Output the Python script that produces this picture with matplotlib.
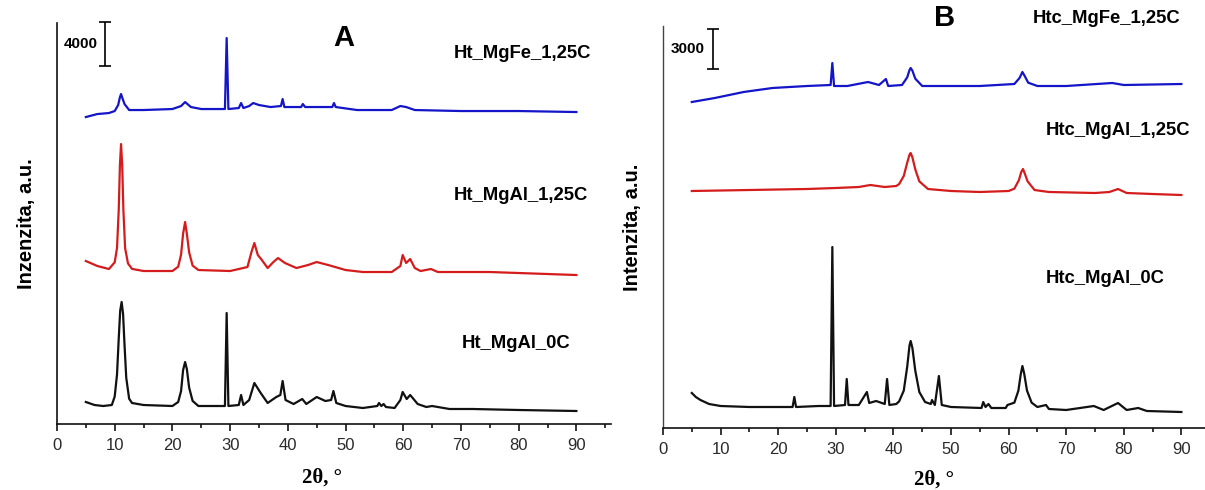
import matplotlib
matplotlib.use('Agg')
import matplotlib.pyplot as plt
from matplotlib.ticker import MultipleLocator

plt.rcParams['font.family'] = ['Liberation Sans', 'DejaVu Sans']

# ---- panel A: hydrotalcites (counts, stacked) ----
a_blue_x = [5, 7, 9, 10, 10.6, 10.9, 11.1, 11.35, 11.7, 12.5, 15, 20, 21.5, 22.2, 23.2, 25, 29.1, 29.4,
            29.7, 31.5, 31.9, 32.3, 33.3, 34, 35, 37, 38.8, 39.1, 39.4, 42.3, 42.6, 43, 47.7, 48, 48.3,
            52, 58, 59.5, 60.5, 62, 70, 80, 90]
a_blue_y = [27906, 28179, 28270, 28452, 28998, 29700, 29997, 29600, 29088, 28543, 28543, 28634, 28906,
            29270, 28816, 28634, 28634, 35087, 28634, 28724, 29179, 28724, 28906, 29179, 28998, 28816,
            28906, 29543, 28816, 28816, 29088, 28816, 28816, 29179, 28816, 28543, 28543, 28906, 28816,
            28543, 28452, 28452, 28361]

a_red_x = [5, 7, 9, 10.0, 10.4, 10.7, 10.9, 11.1, 11.3, 11.5, 11.8, 12.3, 13, 15, 20, 21.0, 21.5,
           21.85, 22.2, 22.5, 22.9, 23.5, 24.5, 30, 33, 33.7, 34.2, 34.8, 35.5, 36.5, 37.5, 38.3, 39.5,
           41.5, 43.5, 45, 47, 50, 53, 58, 59.5, 59.9, 60.5, 61.2, 62, 63, 64.8, 66, 70, 75, 80, 90]
a_red_y = [14817, 14362, 14090, 14700, 16000, 19500, 23500, 25452, 23500, 19500, 16000, 14600, 14100,
           13908, 13908, 14300, 15400, 17300, 18362, 17300, 15600, 14400, 13999, 13908, 14271, 15635,
           16453, 15362, 14908, 14180, 14726, 15089, 14635, 14180, 14453, 14726, 14453, 13999, 13817,
           13817, 14362, 15362, 14635, 14999, 14180, 13908, 14090, 13817, 13817, 13817, 13726, 13544]

a_black_x = [5, 6.5, 8, 9.5, 10.0, 10.4, 10.7, 10.95, 11.2, 11.45, 11.7, 12.0, 12.5, 13, 15, 20, 21.0,
             21.5, 21.85, 22.2, 22.5, 22.9, 23.5, 24.5, 29.1, 29.4, 29.7, 31.5, 31.9, 32.3, 33.3, 34.2,
             35.3, 36.5, 38, 38.7, 39.1, 39.6, 41, 42.5, 43.2, 45, 46.5, 47.5, 47.9, 48.4, 50, 53, 55.5,
             55.8, 56.2, 56.6, 57, 58.5, 59.5, 59.9, 60.6, 61.2, 62.5, 64, 65, 68, 72, 80, 90]
a_black_y = [2000, 1727, 1636, 1727, 2500, 4500, 7800, 10300, 11090, 10000, 7200, 4200, 2300, 1909,
             1727, 1636, 2000, 3000, 4900, 5636, 5000, 3300, 2100, 1636, 1636, 10090, 1636, 1727, 2636,
             1727, 2182, 3727, 2818, 1909, 2454, 2636, 3909, 2182, 1818, 2273, 1818, 2454, 2091, 2182,
             3000, 1909, 1636, 1454, 1636, 1909, 1636, 1818, 1545, 1454, 2182, 2909, 2273, 2636, 1818,
             1545, 1636, 1364, 1364, 1273, 1182]

# ---- panel B: calcined samples ----
b_blue_x = [5, 9, 14, 19, 25, 29.1, 29.4, 29.7, 32, 35.6, 37.5, 38.7, 39.1, 41.5, 42.4, 42.8, 43,
            43.3, 43.8, 45, 50, 55, 61, 61.9, 62.4, 62.8, 63.4, 65, 70, 78, 80, 90]
b_blue_y = [24450, 24750, 25200, 25500, 25650, 25725, 27375, 25650, 25650, 25950, 25725, 26175, 25650,
            25725, 26300, 26850, 27000, 26800, 26200, 25650, 25650, 25650, 25800, 26250, 26700, 26400,
            25900, 25650, 25650, 25875, 25725, 25800]

b_red_x = [5, 15, 25, 30, 34, 36, 38.5, 40.5, 41.0, 41.8, 42.4, 42.8, 43.0, 43.3, 43.8, 44.5, 46, 50,
           55, 60, 61.0, 61.8, 62.2, 62.5, 62.8, 63.3, 64.5, 67, 75, 77.5, 79, 80.5, 85, 90]
b_red_y = [17775, 17850, 17925, 18000, 18075, 18225, 18075, 18150, 18300, 18900, 19900, 20500, 20625,
           20300, 19400, 18500, 17925, 17775, 17700, 17775, 17950, 18600, 19200, 19425, 19100, 18500,
           17850, 17700, 17625, 17700, 17925, 17625, 17550, 17475]

b_black_x = [5, 5.7, 6.5, 8, 10, 15, 22.5, 22.8, 23.1, 27, 29.1, 29.4, 29.7, 31.6, 31.9, 32.2, 34,
             35.4, 35.8, 37, 38.5, 38.9, 39.3, 40.5, 41.0, 41.8, 42.4, 42.8, 43.0, 43.3, 43.8, 44.5,
             45.5, 46.5, 46.7, 47.2, 47.9, 48.4, 50, 55.3, 55.6, 56, 56.5, 57, 59.5, 59.8, 61.0, 61.7,
             62.1, 62.4, 62.7, 63.2, 64, 65, 66.5, 67, 70, 74.8, 76.5, 79, 80.5, 82.5, 84, 90]
b_black_y = [2625, 2325, 2100, 1800, 1650, 1575, 1575, 2325, 1575, 1650, 1650, 13575, 1650, 1725, 3675,
             1725, 1725, 2700, 1875, 2025, 1800, 3675, 1725, 1800, 2000, 2800, 4600, 6200, 6525, 6000,
             4300, 2700, 1950, 1800, 2100, 1725, 3900, 1725, 1575, 1500, 1950, 1575, 1800, 1500, 1500,
             1725, 1900, 2800, 4000, 4650, 4100, 2800, 1900, 1575, 1725, 1425, 1350, 1650, 1350, 1875,
             1350, 1500, 1275, 1200]

a_labels = ['Ht_MgFe_1,25C', 'Ht_MgAl_1,25C', 'Ht_MgAl_0C']
b_labels = ['Htc_MgFe_1,25C', 'Htc_MgAl_1,25C', 'Htc_MgAl_0C']

BLUE = '#1414c8'
RED = '#d41c1c'
BLACK = '#111111'


def style_axis(ax, xmax, ymax, ylabel):
    ax.set_xlim(0, xmax)
    ax.set_ylim(0, ymax)
    for s in ['top', 'right']:
        ax.spines[s].set_visible(False)
    for s in ['left', 'bottom']:
        ax.spines[s].set_linewidth(1.2)
        ax.spines[s].set_color('#111111')
    ax.set_yticks([])
    ax.xaxis.set_major_locator(MultipleLocator(10))
    ax.xaxis.set_minor_locator(MultipleLocator(5))
    ax.tick_params(axis='x', which='major', direction='out', length=5, width=1.1,
                   labelsize=12, pad=5, labelcolor='#2a2a2a')
    ax.tick_params(axis='x', which='minor', direction='out', length=3, width=1.1)
    ax.set_ylabel(ylabel, fontsize=14.5, fontweight='bold', labelpad=15)
    ax.set_facecolor('none')


def scale_bar(ax, x, y0, length, text, tx):
    ax.errorbar([x], [y0 + length / 2], yerr=[length / 2], color='black', lw=1.2,
                capsize=4.5, capthick=1.2, clip_on=False)
    ax.text(tx, y0 + length / 2, text, fontsize=11, fontweight='bold',
            ha='center', va='center')


fig = plt.figure(figsize=(12.05, 4.9), dpi=100)

# panel A
axA = fig.add_axes([57 / 1205, 66 / 490, 554 / 1205, 401 / 490])
style_axis(axA, 96, 36455, 'Inzenzita, a.u.')
axA.plot(a_blue_x, a_blue_y, color=BLUE, lw=1.6)
axA.plot(a_red_x, a_red_y, color=RED, lw=1.6)
axA.plot(a_black_x, a_black_y, color=BLACK, lw=1.6)
scale_bar(axA, 8.3, 32545, 4000, '4000', 4.2)
axA.text(49.7, 35087, 'A', fontsize=21, fontweight='bold', ha='center', va='center')
for lab, xx, yy in zip(a_labels, [80.6, 80.4, 79.5], [33725, 20816, 7363]):
    axA.text(xx, yy, lab, fontsize=13.3, fontweight='bold', ha='center', va='center')
axA.text(46, -4900, '2θ, °', fontsize=15, fontweight='bold', ha='center', va='center',
         family=['Liberation Serif', 'DejaVu Serif'])

# panel B
axB = fig.add_axes([663 / 1205, 62 / 490, 542 / 1205, 402 / 490])
style_axis(axB, 94.1, 30150, 'Intenzita, a.u.')
axB.spines['left'].set_color('#444444')
axB.spines['left'].set_linewidth(1.0)
axB.plot(b_blue_x, b_blue_y, color=BLUE, lw=1.6)
axB.plot(b_red_x, b_red_y, color=RED, lw=1.6)
axB.plot(b_black_x, b_black_y, color=BLACK, lw=1.6)
scale_bar(axB, 8.7, 26925, 3000, '3000', 4.3)
axB.text(48.8, 30750, 'B', fontsize=21, fontweight='bold', ha='center', va='center')
for lab, xx, yy in zip(b_labels, [77.1, 79.0, 76.8], [30750, 22350, 11250]):
    axB.text(xx, yy, lab, fontsize=13.3, fontweight='bold', ha='center', va='center')
axB.text(47, -3900, '2θ, °', fontsize=15, fontweight='bold', ha='center', va='center',
         family=['Liberation Serif', 'DejaVu Serif'])

fig.savefig('out.png', dpi=100)
